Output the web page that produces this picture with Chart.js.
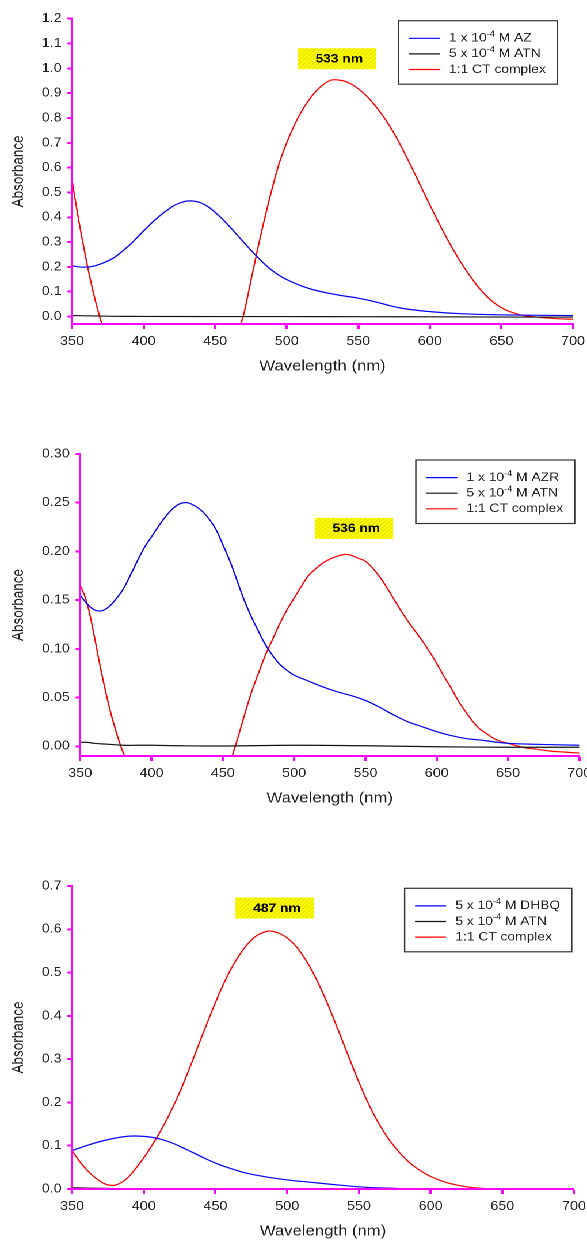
<!DOCTYPE html>
<html>
<head>
<meta charset="utf-8">
<script src="https://cdn.jsdelivr.net/npm/chart.js@4.4.1/dist/chart.umd.min.js"></script>
<style>
html,body{margin:0;padding:0;background:#fff;overflow:hidden}
/* the source figure is stretched horizontally, so draw narrow and widen */
#wrap{position:relative;width:510px;height:1240px;transform:scaleX(1.151);transform-origin:0 0}
.panel{position:absolute;left:0;width:510px}
</style>
</head>
<body>
<div id="wrap">
  <div class="panel" style="top:0;height:379px"><canvas id="c1"></canvas></div>
  <div class="panel" style="top:420px;height:391px"><canvas id="c2"></canvas></div>
  <div class="panel" style="top:860px;height:384px"><canvas id="c3"></canvas></div>
</div>
<script>
/* ============ data ============ */
const xTicks=[350,400,450,500,550,600,650,700];

// panel 1: AZ / ATN
const labels1=['1 x 10^-4 M AZ','5 x 10^-4 M ATN','1:1 CT complex'];
const yTicks1=[0,0.1,0.2,0.3,0.4,0.5,0.6,0.7,0.8,0.9,1.0,1.1,1.2];
const azNm=[350,355,360,365,370,375,380,390,400,410,420,425,430,435,440,445,450,455,460,465,470,475,480,485,490,495,500,510,520,530,540,550,560,570,580,590,600,620,640,660,680,700];
const azAbs=[0.205,0.200,0.199,0.203,0.212,0.224,0.240,0.287,0.345,0.400,0.443,0.457,0.465,0.465,0.458,0.443,0.420,0.393,0.363,0.331,0.299,0.267,0.237,0.209,0.185,0.165,0.149,0.124,0.106,0.093,0.083,0.074,0.062,0.047,0.034,0.026,0.020,0.012,0.008,0.006,0.005,0.004];
const atn1Nm=[350,360,380,400,450,500,550,600,650,700];
const atn1Abs=[0.004,0.003,0.001,0.0005,0,0,-0.0005,-0.001,-0.002,-0.002];
const ct1Nm=[350,354,358,362,366,370,372,420,467,470,475,480,485,490,495,500,505,510,515,520,525,530,533,536,540,545,550,555,560,565,570,575,580,585,590,595,600,605,610,615,620,625,630,635,640,645,650,655,660,665,670,680,690,700];
const ct1Abs=[0.55,0.41,0.285,0.17,0.07,-0.015,-0.05,null,-0.045,0.01,0.145,0.28,0.405,0.52,0.622,0.700,0.767,0.823,0.868,0.905,0.932,0.951,0.954,0.953,0.949,0.937,0.918,0.893,0.862,0.826,0.785,0.738,0.685,0.628,0.569,0.509,0.450,0.392,0.336,0.283,0.234,0.189,0.148,0.111,0.080,0.055,0.036,0.022,0.012,0.005,0.001,-0.005,-0.009,-0.011];

// panel 2: AZR / ATN
const labels2=['1 x 10^-4 M AZR','5 x 10^-4 M ATN','1:1 CT complex'];
const yTicks2=[0,0.05,0.10,0.15,0.20,0.25,0.30];
const azrNm=[350,355,360,365,370,375,380,385,390,395,400,405,410,415,420,425,430,435,440,445,450,455,460,465,470,475,480,485,490,495,500,510,520,530,540,550,560,570,580,590,600,610,620,630,640,650,670,700];
const azrAbs=[0.155,0.146,0.140,0.139,0.143,0.151,0.161,0.175,0.190,0.204,0.215,0.226,0.236,0.244,0.249,0.250,0.247,0.242,0.234,0.223,0.207,0.190,0.170,0.150,0.133,0.118,0.104,0.093,0.084,0.078,0.073,0.067,0.061,0.056,0.052,0.047,0.040,0.032,0.025,0.020,0.015,0.011,0.008,0.0065,0.0045,0.003,0.002,0.001];
const atn2Nm=[350,355,360,370,380,390,400,420,450,500,550,600,650,700];
const atn2Abs=[0.004,0.004,0.003,0.002,0.001,0.001,0.001,0.0005,0.0003,0.001,0.0005,-0.0005,-0.001,-0.001];
const ct2Nm=[350,353,356,360,364,368,372,376,380,383,420,455,460,465,470,475,480,485,490,495,500,505,510,515,520,525,530,536,540,545,550,555,560,565,570,575,580,585,590,595,600,605,610,615,620,625,630,635,640,645,650,660,670,680,690,700];
const ct2Abs=[0.165,0.155,0.14,0.112,0.082,0.055,0.031,0.011,-0.006,-0.015,null,-0.017,0.006,0.031,0.055,0.075,0.094,0.11,0.126,0.14,0.152,0.164,0.175,0.182,0.188,0.192,0.195,0.197,0.196,0.193,0.19,0.183,0.174,0.163,0.151,0.139,0.128,0.118,0.108,0.097,0.085,0.072,0.06,0.047,0.036,0.026,0.018,0.013,0.008,0.005,0.003,-0.001,-0.003,-0.005,-0.006,-0.007];

// panel 3: DHBQ / ATN
const labels3=['5 x 10^-4 M DHBQ','5 x 10^-4 M ATN','1:1 CT complex'];
const yTicks3=[0,0.1,0.2,0.3,0.4,0.5,0.6,0.7];
const dhbqNm=[350,360,370,380,390,400,410,420,430,440,450,460,470,480,490,500,510,520,530,540,550,560,570,580,590,700];
const dhbqAbs=[0.0886,0.100,0.110,0.1175,0.1222,0.1215,0.1165,0.106,0.091,0.075,0.060,0.048,0.038,0.031,0.0255,0.021,0.0175,0.0145,0.011,0.008,0.005,0.003,0.002,0.001,0,0];
const atn3Nm=[350,360,380,400,450,700];
const atn3Abs=[0.003,0.002,0.001,0.0005,0,0];
const ct3Nm=[350,355,360,365,370,375,380,385,390,395,400,405,410,415,420,425,430,435,440,445,450,455,460,465,470,475,480,487,490,495,500,505,510,515,520,525,530,535,540,545,550,555,560,565,570,575,580,585,590,595,600,610,620,630,640,650,700];
const ct3Abs=[0.0886,0.065,0.045,0.029,0.017,0.0095,0.009,0.016,0.030,0.050,0.072,0.097,0.124,0.154,0.187,0.223,0.263,0.305,0.348,0.390,0.431,0.469,0.503,0.532,0.556,0.575,0.588,0.596,0.595,0.590,0.580,0.565,0.544,0.518,0.487,0.452,0.413,0.372,0.330,0.288,0.247,0.209,0.175,0.145,0.119,0.097,0.078,0.062,0.049,0.038,0.029,0.016,0.008,0.003,0.0008,0,0];

const peaks=[533,536,487];

/* ============ drawing ============ */
const F='"Liberation Sans", Arial, sans-serif';
const MAG='#ff00ff';
Chart.defaults.font.family=F;
Chart.defaults.color='#222';

function pts(nm,ab){return nm.map((x,i)=>({x,y:ab[i]}));}
function splitSup(s){ // "10^-4" -> raised run
  return s.split(/(\^\S+)/).filter(Boolean).map(t=>t[0]==='^'?{t:t.slice(1),sup:true}:{t,sup:false});
}
function hatch(ctx){
  const c=document.createElement('canvas');c.width=c.height=4;
  const g=c.getContext('2d');
  g.fillStyle='#ffff00';g.fillRect(0,0,4,4);
  g.strokeStyle='#d9d000';g.lineWidth=1;g.beginPath();
  g.moveTo(0,4);g.lineTo(4,0);g.moveTo(-2,2);g.lineTo(2,-2);g.moveTo(2,6);g.lineTo(6,2);g.stroke();
  return ctx.createPattern(c,'repeat');
}

// boxed legend with superscript exponents
const boxLegend={id:'boxLegend',afterDraw(ch,args,o){
  const {ctx,chartArea:a}=ch,sets=ch.data.datasets;
  ctx.save();
  const runs=sets.map(d=>splitSup(d.label));
  const widthOf=r=>r.reduce((w,p)=>{ctx.font=(p.sup?'8px ':'12px ')+F;return w+ctx.measureText(p.t).width;},0);
  const tw=Math.max(...runs.map(widthOf));
  const w=44+tw+10,h=63.5,x0=a.right-o.right-w,y0=a.top+o.top;
  ctx.fillStyle='#fff';ctx.fillRect(x0,y0,w,h);
  ctx.strokeStyle='#333';ctx.lineWidth=1.2;ctx.strokeRect(x0,y0,w,h);
  runs.forEach((r,i)=>{
    const cy=y0+17.6+i*15.6;
    ctx.strokeStyle=sets[i].borderColor;ctx.lineWidth=1.2;
    ctx.beginPath();ctx.moveTo(x0+9,cy);ctx.lineTo(x0+36,cy);ctx.stroke();
    let tx=x0+44;
    ctx.fillStyle='#222';ctx.textBaseline='middle';ctx.textAlign='left';
    r.forEach(p=>{ctx.font=(p.sup?'8px ':'12px ')+F;ctx.fillText(p.t,tx,p.sup?cy-4:cy);tx+=ctx.measureText(p.t).width;});
  });
  ctx.restore();
}};

// hatched "xxx nm" tag above the CT band maximum
const peakTag={id:'peakTag',afterDraw(ch,args,o){
  const {ctx,scales:{x,y}}=ch;
  const red=ch.data.datasets[2].data.filter(p=>p.y!==null);
  const top=Math.max(...red.map(p=>p.y));
  const cx=x.getPixelForValue(o.nm)+o.dx,cy=y.getPixelForValue(top)-o.dy;
  const w=68,h=21;
  ctx.save();
  ctx.fillStyle=hatch(ctx);ctx.fillRect(cx-w/2,cy-h/2,w,h);
  ctx.fillStyle='#000';ctx.font='bold 12px '+F;ctx.textAlign='center';ctx.textBaseline='middle';
  ctx.fillText(o.nm+' nm',cx+2,cy+0.5);
  ctx.restore();
}};

function makeChart(id,o){
  const cols=['#0000ff','#111111','#ff0000'];
  return new Chart(document.getElementById(id),{
    type:'line',
    data:{datasets:o.series.map((s,i)=>({label:o.labels[i],data:pts(s[0],s[1]),borderColor:cols[i],borderWidth:1.2,
      pointRadius:0,tension:0.4,spanGaps:false}))},
    options:{responsive:true,maintainAspectRatio:false,animation:false,devicePixelRatio:2,
      layout:{padding:{top:o.padTop,right:o.padRight,bottom:0,left:0}},
      plugins:{legend:{display:false},tooltip:{enabled:false},
        boxLegend:{right:o.legRight,top:o.legTop},
        peakTag:{nm:o.peak,dx:o.tagDx,dy:o.tagDy}},
      scales:{
        x:{type:'linear',min:350,max:700,
          afterBuildTicks:s=>{s.ticks=xTicks.map(v=>({value:v}));},
          afterFit:s=>{s.height=55;s.paddingLeft=0;s.paddingRight=0;},
          grid:{drawOnChartArea:false,color:MAG,tickColor:MAG,tickLength:5,tickWidth:2,z:1},
          border:{color:MAG,width:2,z:1},
          ticks:{padding:5,autoSkip:false,maxRotation:0,font:{size:12.5},color:'#222',z:1,callback:v=>String(v)},
          title:{display:true,text:'Wavelength (nm)',font:{size:14.5},color:'#222',padding:{top:0,bottom:4}}},
        y:{type:'linear',min:o.yMin,max:o.yMax,
          afterBuildTicks:s=>{s.ticks=o.yTicks.map(v=>({value:v}));},
          afterFit:s=>{s.width=o.left;s.paddingTop=0;s.paddingBottom=0;},
          grid:{drawOnChartArea:false,color:MAG,tickColor:MAG,tickLength:4,tickWidth:2,z:1},
          border:{color:MAG,width:2,z:1},
          ticks:{padding:5,autoSkip:false,font:{size:12.5},color:'#222',z:1,callback:v=>v.toFixed(o.dec)},
          title:{display:true,text:'Absorbance',font:{size:13.5},color:'#222',padding:{top:8,bottom:0}}}
      }},
    plugins:[boxLegend,peakTag]
  });
}

makeChart('c1',{labels:labels1,series:[[azNm,azAbs],[atn1Nm,atn1Abs],[ct1Nm,ct1Abs]],
  yMin:-0.03,yMax:1.2,yTicks:yTicks1,dec:1,left:62.6,padTop:18.7,padRight:12.2,
  legRight:13.6,legTop:2,peak:peaks[0],tagDx:2.6,tagDy:21});
makeChart('c2',{labels:labels2,series:[[azrNm,azrAbs],[atn2Nm,atn2Abs],[ct2Nm,ct2Abs]],
  yMin:-0.01,yMax:0.30,yTicks:yTicks2,dec:2,left:69.7,padTop:34,padRight:6.7,
  legRight:4,legTop:6,peak:peaks[1],tagDx:7.4,tagDy:26});
makeChart('c3',{labels:labels3,series:[[dhbqNm,dhbqAbs],[atn3Nm,atn3Abs],[ct3Nm,ct3Abs]],
  yMin:0,yMax:0.7,yTicks:yTicks3,dec:1,left:62.6,padTop:26,padRight:11.3,
  legRight:2,legTop:2.3,peak:peaks[2],tagDx:5.3,tagDy:23});
</script>
</body>
</html>
